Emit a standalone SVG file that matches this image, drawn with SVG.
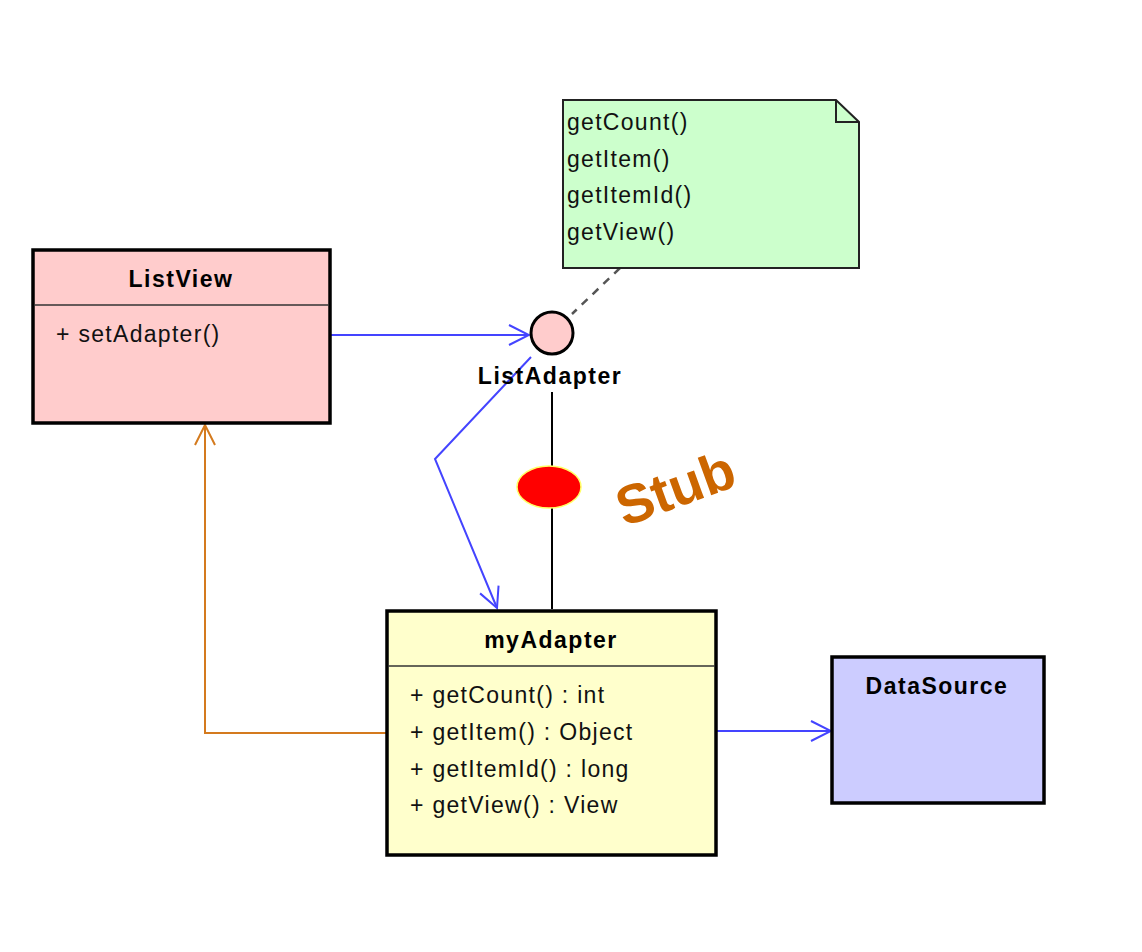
<svg xmlns="http://www.w3.org/2000/svg" width="1142" height="952" viewBox="0 0 1142 952">
<style>
.box{stroke:#000;stroke-width:3.5}
.div{stroke:#333;stroke-width:1.5}
.t{font-family:"Liberation Sans",Arial,sans-serif;font-size:23px;letter-spacing:1.3px;fill:#111}
.tb{font-family:"Liberation Sans",Arial,sans-serif;font-size:23px;letter-spacing:1.5px;font-weight:bold;fill:#000;text-anchor:middle}
.blue{stroke:#4444ff;stroke-width:2;fill:none}
.orange{stroke:#d47a1e;stroke-width:2;fill:none}
</style>
<defs>
<marker id="ab" viewBox="0 0 24 24" refX="22" refY="12" markerWidth="24" markerHeight="24" markerUnits="userSpaceOnUse" orient="auto">
<path d="M2,2 L22,12 L2,22" fill="none" stroke="#4444ff" stroke-width="2"/>
</marker>
<marker id="ao" viewBox="0 0 24 24" refX="22" refY="12" markerWidth="24" markerHeight="24" markerUnits="userSpaceOnUse" orient="auto">
<path d="M2,2 L22,12 L2,22" fill="none" stroke="#d47a1e" stroke-width="2"/>
</marker>
</defs>
<rect width="1142" height="952" fill="#fff"/>
<g id="connectors">
<line x1="620" y1="268" x2="572" y2="314" stroke="#555" stroke-width="2.5" stroke-dasharray="8,7"/>
<line class="blue" x1="331" y1="335" x2="529" y2="335" marker-end="url(#ab)"/>
<polyline class="blue" points="531,357 435,459 497,608" marker-end="url(#ab)"/>
<line x1="552" y1="392" x2="552" y2="609" stroke="#000" stroke-width="2"/>
<line class="blue" x1="717" y1="731" x2="831" y2="731" marker-end="url(#ab)"/>
<polyline class="orange" points="387,733 205,733 205,425" marker-end="url(#ao)"/>
</g>
<g id="listview">
<rect class="box" x="33" y="250" width="297" height="173" fill="#ffcccc"/>
<line class="div" x1="34" y1="305" x2="329" y2="305"/>
<text class="tb" x="181" y="287">ListView</text>
<text class="t" x="56" y="342">+ setAdapter()</text>
</g>
<g id="note">
<path d="M563,100 H836 L859,122 V268 H563 Z" fill="#ccffcc" stroke="#222" stroke-width="2"/>
<path d="M836,100 V122 H859" fill="none" stroke="#222" stroke-width="2"/>
<text class="t" x="567" y="130">getCount()</text>
<text class="t" x="567" y="167">getItem()</text>
<text class="t" x="567" y="203">getItemId()</text>
<text class="t" x="567" y="240">getView()</text>
</g>
<g id="listadapter">
<circle cx="552" cy="333" r="21" fill="#ffcccc" stroke="#000" stroke-width="3"/>
<text class="tb" x="550" y="384">ListAdapter</text>
</g>
<g id="stub">
<ellipse cx="549" cy="487" rx="32" ry="21" fill="#ff0000" stroke="#ffff66" stroke-width="1.5"/>
<text x="676" y="507" transform="rotate(-20 676 490)" font-family="'Liberation Sans',Arial,sans-serif" font-size="55" font-weight="bold" fill="#cc6600" text-anchor="middle">Stub</text>
</g>
<g id="myadapter">
<rect class="box" x="387" y="611" width="329" height="244" fill="#ffffcc"/>
<line class="div" x1="388" y1="666" x2="715" y2="666"/>
<text class="tb" x="551" y="648">myAdapter</text>
<text class="t" x="410" y="703">+ getCount() : int</text>
<text class="t" x="410" y="740">+ getItem() : Object</text>
<text class="t" x="410" y="777">+ getItemId() : long</text>
<text class="t" x="410" y="813">+ getView() : View</text>
</g>
<g id="datasource">
<rect class="box" x="832" y="657" width="212" height="146" fill="#ccccff"/>
<text class="tb" x="937" y="694">DataSource</text>
</g>
</svg>
